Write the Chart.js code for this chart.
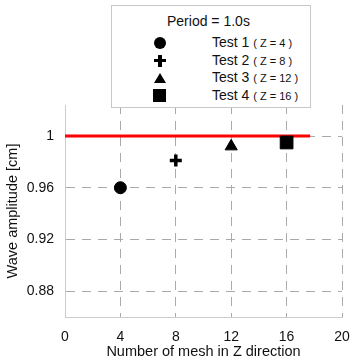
<!DOCTYPE html>
<html>
<head>
<meta charset="utf-8">
<script src="https://cdn.jsdelivr.net/npm/chart.js@4"></script>
<style>
  html, body { margin: 0; padding: 0; background: #fff; }
  #wrap { position: relative; width: 352px; height: 363px; font-family: "Liberation Sans", Arial, sans-serif; color: #111; }
  #legend { position: absolute; left: 111px; top: 5px; width: 198px; height: 101px; border: 1px solid #c8c8c8; background: #fff; }
  #legend .title { position: absolute; left: 55px; top: 7px; font-size: 14px; }
  #legend .row { position: absolute; left: 0; height: 18px; width: 100%; }
  #legend .mk { position: absolute; left: 41px; top: 2px; width: 14px; height: 14px; }
  #legend .txt { position: absolute; left: 100px; top: 0; font-size: 14px; white-space: nowrap; }
  #legend .txt small { font-size: 11px; }
</style>
</head>
<body>
<div id="wrap">
  <canvas id="myChart" width="352" height="363"></canvas>
  <div id="legend"></div>
</div>
<script>
// Data
const meshCounts = [4, 8, 12, 16];
const amplitudes = [0.96, 0.981, 0.992, 0.995];
const testNames = ['Test 1', 'Test 2', 'Test 3', 'Test 4'];
const zLabels = ['( Z = 4 )', '( Z = 8 )', '( Z = 12 )', '( Z = 16 )'];
const pointStyles = ['circle', 'cross', 'triangle', 'rect'];
const pointSizes = [6, 6, 7, 9];
const refX = [0, 17.7];
const refY = [1, 1];
const xTicks = [0, 4, 8, 12, 16, 20];
const yTicks = [0.88, 0.92, 0.96, 1];

const ctx = document.getElementById('myChart').getContext('2d');
const font = { family: 'Liberation Sans', size: 14 };

const markerSets = meshCounts.map((x, i) => ({
  label: testNames[i],
  data: [{ x, y: amplitudes[i] }],
  pointStyle: pointStyles[i],
  pointRadius: pointSizes[i],
  pointBackgroundColor: '#000',
  pointBorderColor: '#000',
  pointBorderWidth: pointStyles[i] === 'cross' ? 3.5 : 1,
  showLine: false,
  order: 0
}));

new Chart(ctx, {
  type: 'scatter',
  data: {
    datasets: [
      ...markerSets,
      {
        label: 'Reference',
        data: refX.map((x, i) => ({ x, y: refY[i] })),
        showLine: true,
        borderColor: '#f00',
        borderWidth: 3,
        pointRadius: 0,
        order: 1
      }
    ]
  },
  options: {
    responsive: false,
    animation: false,
    layout: { padding: { top: 105, right: 10, left: 0, bottom: 0 } },
    plugins: {
      legend: { display: false },
      tooltip: { enabled: false }
    },
    scales: {
      x: {
        type: 'linear',
        min: 0,
        max: 20,
        afterBuildTicks: s => { s.ticks = xTicks.map(v => ({ value: v })); },
        afterFit: s => { s.height = 46; s.paddingLeft = 0; s.paddingRight = 0; },
        ticks: { color: '#111', padding: 12, font, maxRotation: 0 },
        grid: { color: '#aaa', drawTicks: false },
        border: { color: '#ccc', dash: [9, 7] },
        title: { display: true, text: 'Number of mesh in Z direction', color: '#111', padding: { top: 0, bottom: 2 }, font: { family: 'Liberation Sans', size: 14.5 } }
      },
      y: {
        min: 0.86,
        max: 1.024,
        afterBuildTicks: s => { s.ticks = yTicks.map(v => ({ value: v })); },
        afterFit: s => { s.width = 65; s.paddingTop = 0; s.paddingBottom = 0; },
        ticks: { color: '#111', padding: 11, font, callback: v => String(v) },
        grid: { color: '#aaa', drawTicks: false },
        border: { color: '#ccc', dash: [9, 7] },
        title: { display: true, text: 'Wave amplitude [cm]', color: '#111', padding: { top: 4, bottom: 0 }, font: { family: 'Liberation Sans', size: 14.5 } }
      }
    }
  },
  plugins: [{
    // solid axis lines, dashed grid
    id: 'dashGrid',
    beforeDatasetsDraw(chart) {
      const { ctx, chartArea: a } = chart;
      ctx.save();
      ctx.strokeStyle = '#ccc';
      ctx.lineWidth = 1;
      ctx.setLineDash([]);
      ctx.beginPath();
      ctx.moveTo(a.left + 0.5, a.top);
      ctx.lineTo(a.left + 0.5, a.bottom + 0.5);
      ctx.lineTo(a.right, a.bottom + 0.5);
      ctx.stroke();
      ctx.restore();
    }
  }]
});

// Legend box
const legend = document.getElementById('legend');
legend.innerHTML = '<div class="title">Period = 1.0s</div>' + testNames.map((name, i) => {
  let mk;
  if (pointStyles[i] === 'circle') mk = '<div class="mk"><div style="position:absolute;left:1px;top:1px;width:12px;height:12px;border-radius:50%;background:#000"></div></div>';
  else if (pointStyles[i] === 'cross') mk = '<div class="mk"><div style="position:absolute;left:1px;top:5px;width:12px;height:3.5px;background:#000"></div><div style="position:absolute;left:5.3px;top:1px;width:3.5px;height:12px;background:#000"></div></div>';
  else if (pointStyles[i] === 'triangle') mk = '<div class="mk"><div style="position:absolute;left:1px;top:2px;width:0;height:0;border-left:6px solid transparent;border-right:6px solid transparent;border-bottom:10px solid #000"></div></div>';
  else mk = '<div class="mk"><div style="position:absolute;left:0;top:0;width:13px;height:13px;background:#000"></div></div>';
  return '<div class="row" style="top:' + (28 + i * 17.7) + 'px">' + mk + '<div class="txt">' + name + ' <small>' + zLabels[i] + '</small></div></div>';
}).join('');
</script>
</body>
</html>
